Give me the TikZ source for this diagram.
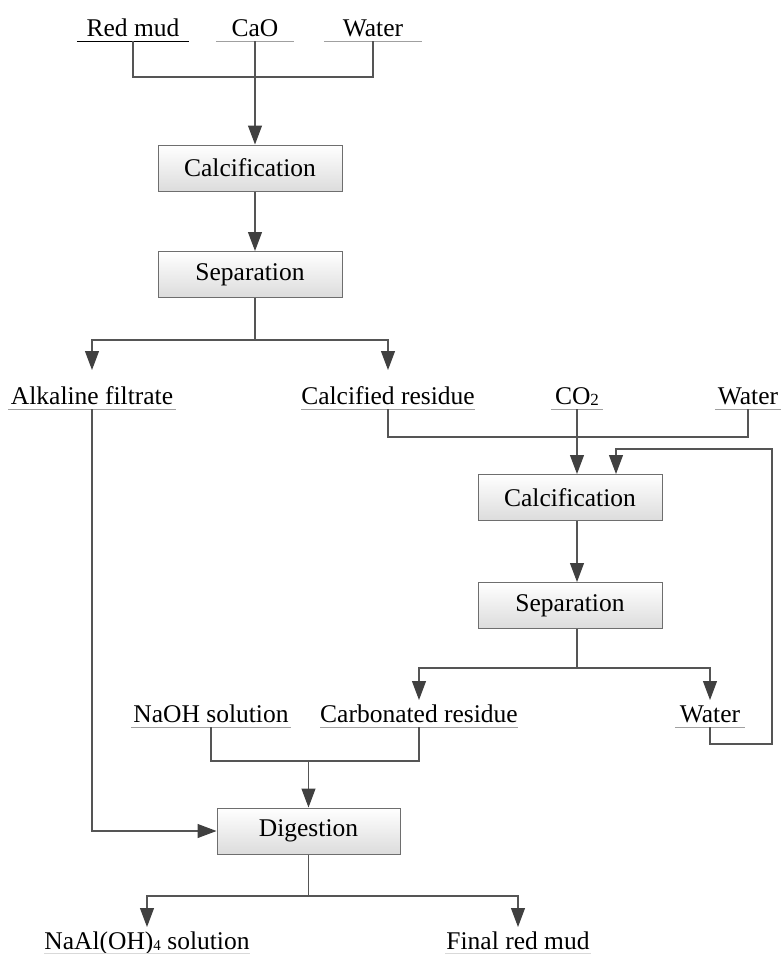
\documentclass[tikz,border=0pt]{standalone}
\usepackage{fontspec}
\setmainfont{Liberation Serif}
\usetikzlibrary{arrows.meta,calc}
\definecolor{lncol}{HTML}{555555}
\definecolor{tipcol}{HTML}{404040}
\definecolor{boxcol}{HTML}{6E6E6E}
\definecolor{boxbot}{HTML}{DCDCDC}
\definecolor{ulcol}{HTML}{A0A0A0}
\newcommand\fsz{\fontsize{25.5}{28}\selectfont}
\tikzset{
  ln/.style={draw=lncol, line width=1.1pt},
  arr/.style={ln, -{Triangle[length=19pt,width=14pt,color=tipcol]}},
  procbox/.style={draw=boxcol, line width=1pt, top color=white, bottom color=boxbot,
    minimum width=184pt, minimum height=46pt, inner sep=0pt, font=\fsz},
  lbl/.style={inner xsep=0pt, inner ysep=0pt, text height=18pt, text depth=5pt,
    anchor=base, font=\fsz},
  ul/.style={draw=ulcol, line width=1pt},
  ulfaint/.style={draw=ulcol!40, line width=1pt},
}
\begin{document}
\begin{tikzpicture}[x=1pt,y=-1pt]
\useasboundingbox (0,0) rectangle (781,954);
% ---------- row 1
\node[lbl, minimum width=112pt] (rm) at (133,36) {Red mud};
\node[lbl, minimum width=78pt] (cao) at (255,36) {CaO};
\node[lbl, minimum width=98pt] (w1) at (373,36) {Water};
\draw[black, line width=1.4pt] (rm.south west) -- (rm.south east);
\draw[ul] (cao.south west) -- (cao.south east);
\draw[ul] (w1.south west) -- (w1.south east);
\coordinate (j1) at (255,77);
\draw[ln] (rm.south) |- (j1) -| (w1.south);
% ---------- boxes 1,2
\node[procbox] (b1) at (250,168) {Calcification};
\node[procbox] (b2) at (250,274.5) {Separation};
\draw[arr] (cao.south) -- (cao.south |- b1.north);
\draw[arr] (cao.south |- b1.south) -- (cao.south |- b2.north);
\coordinate (j2) at (255,340);
\draw[ln] (cao.south |- b2.south) -- (j2);
% ---------- row 2
\node[lbl, minimum width=168pt] (af) at (92,404) {Alkaline filtrate};
\node[lbl, minimum width=168pt] (cr) at (388,404) {Calcified residue};
\node[lbl, minimum width=52pt] (co2) at (577,404) {CO\raisebox{-1.5pt}{\fontsize{17}{17}\selectfont 2}};
\node[lbl, minimum width=66pt] (w2) at (748,404) {Water};
\foreach \n in {af,cr,co2,w2}{\draw[ul] (\n.south west) -- (\n.south east);}
\coordinate (r2t) at (0,370);
\draw[arr] (j2) -| (af.north |- r2t);
\draw[arr] (j2) -| (cr.north |- r2t);
\coordinate (j3) at (577,437);
\draw[ln] (cr.south) |- (j3) -| (w2.south);
% ---------- boxes 3,4
\node[procbox] (b3) at (570,497.5) {Calcification};
\node[procbox] (b4) at (570,605.5) {Separation};
\draw[arr] (co2.south) -- (co2.south |- b3.north);
\draw[arr] (co2.south |- b3.south) -- (co2.south |- b4.north);
\coordinate (j4) at (577,668);
\draw[ln] (co2.south |- b4.south) -- (j4);
% ---------- row 3
\node[lbl, minimum width=160pt] (naoh) at (211,722) {NaOH solution};
\node[lbl, minimum width=191pt] (cbr) at (419,722) {Carbonated residue};
\node[lbl, minimum width=70pt] (w3) at (710,722) {Water};
\foreach \n in {naoh,cbr,w3}{\draw[ul] (\n.south west) -- (\n.south east);}
\coordinate (r3t) at (0,700);
\draw[arr] (j4) -| (cbr.north |- r3t);
\draw[arr] (j4) -| (w3.north |- r3t);
% recycle loop
\coordinate (lp) at (772,449);
\coordinate (lpb) at (772,744);
\draw[arr] (w3.south) |- (lpb) -- (lp) -| ([xshift=46pt]b3.north);
% ---------- digestion
\node[procbox, minimum width=183pt] (b5) at (308.5,831) {Digestion};
\coordinate (j5) at (308.5,761);
\draw[ln] (naoh.south) |- (j5) -| (cbr.south);
\draw[arr] (j5) -- (b5.north);
\draw[arr] (af.south) |- (b5.west);
\coordinate (j6) at (308.5,896);
\draw[ln] (b5.south) -- (j6);
% ---------- row 4
\node[lbl, text depth=4pt, minimum width=200pt] (na) at (147,949) {NaAl(OH)\raisebox{-1pt}{\fontsize{15}{15}\selectfont 4} solution};
\node[lbl, text depth=4pt, minimum width=145pt] (frm) at (518,949) {Final red mud};
\foreach \n in {na,frm}{\draw[ulfaint] (\n.south west) -- (\n.south east);}
\coordinate (r4t) at (0,927);
\draw[arr] (j6) -| (na.north |- r4t);
\draw[arr] (j6) -| (frm.north |- r4t);
\end{tikzpicture}
\end{document}
